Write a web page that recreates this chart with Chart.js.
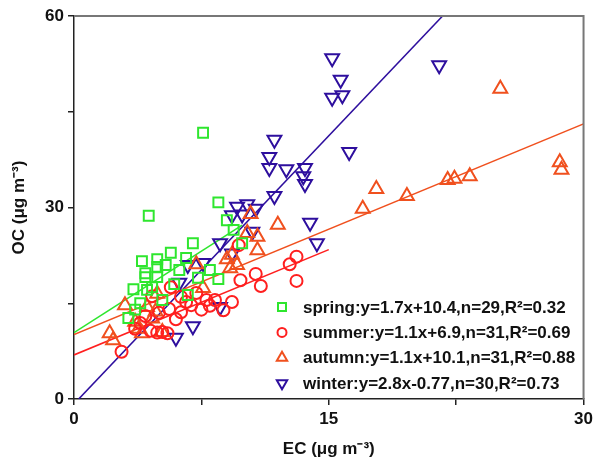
<!DOCTYPE html>
<html>
<head>
<meta charset="utf-8">
<script src="https://cdn.jsdelivr.net/npm/chart.js@4.4.1/dist/chart.umd.min.js"></script>
<style>
body{margin:0;background:#fff}
#wrap{width:597px;height:460px}
</style>
</head>
<body>
<div id="wrap"><canvas id="ocecCanvas" width="597" height="460"></canvas></div>
<script>
// seasons + fit stats
var seasons = ['spring', 'summer', 'autumn', 'winter'];
var slopes = [1.7, 1.1, 1.1, 2.8];
var intercepts = [10.4, 6.9, 10.1, -0.77];
var fitFrom = [0, 0, 0, 0.275];
var fitTo = [9.9, 15, 30, 21.7];
var nCount = [29, 31, 31, 30];
var r2 = ['0.32', '0.69', '0.88', '0.73'];

var xTicks = [0, 15, 30];
var yTicks = [0, 30, 60];

// EC / OC values
var springEC = [7.6, 4.4, 8.5, 9.0, 7.0, 5.7, 4.0, 4.9, 6.6, 4.2, 4.9, 5.4, 6.2, 4.9, 4.2, 8.0, 8.5, 9.9, 3.5, 4.3, 6.7, 3.9, 3.2, 4.6, 5.2, 3.6, 7.3, 5.9, 9.4];
var springOC = [41.7, 28.7, 30.8, 28.0, 24.4, 22.9, 21.6, 21.9, 22.1, 19.7, 20.7, 21.0, 20.2, 19.1, 19.1, 20.2, 18.8, 24.4, 17.2, 17.1, 16.3, 15.0, 12.7, 17.5, 15.5, 14.0, 19.0, 18.0, 26.5];

var summerEC = [9.7, 13.1, 12.7, 13.1, 10.7, 9.8, 11.0, 5.7, 4.6, 6.3, 7.8, 8.3, 6.9, 8.0, 6.3, 5.6, 8.8, 3.9, 4.5, 4.9, 5.2, 5.5, 2.8, 6.6, 7.2, 6.0, 4.2, 5.0, 7.5, 9.3, 3.6];
var summerOC = [24.1, 22.3, 21.1, 18.5, 19.6, 18.6, 17.7, 17.5, 16.1, 16.0, 15.5, 15.5, 14.7, 14.6, 13.6, 14.1, 13.9, 11.9, 10.7, 10.4, 10.5, 10.3, 7.4, 15.2, 16.6, 12.5, 13.0, 13.5, 14.0, 15.2, 11.0];

var autumnEC = [25.1, 28.6, 28.7, 23.3, 22.4, 22.0, 17.8, 19.6, 17.0, 12.0, 10.8, 10.8, 9.0, 9.6, 10.4, 7.6, 4.9, 4.3, 4.8, 3.0, 3.6, 2.1, 2.3, 4.0, 7.2, 9.3, 5.2, 9.2, 4.6, 3.8, 10.2];
var autumnOC = [48.6, 37.1, 35.9, 34.9, 34.5, 34.3, 32.9, 31.8, 29.8, 27.3, 25.4, 23.3, 21.9, 21.0, 29.0, 17.4, 16.5, 14.4, 13.7, 14.7, 12.1, 10.3, 9.2, 10.3, 21.1, 22.6, 10.5, 20.5, 12.6, 11.0, 26.0];

var winterEC = [15.2, 15.7, 15.2, 15.8, 11.8, 11.5, 11.5, 12.5, 16.2, 13.6, 13.5, 13.6, 11.8, 9.6, 10.7, 9.3, 9.9, 21.5, 10.5, 13.9, 14.3, 8.6, 9.3, 6.7, 7.6, 6.2, 8.6, 7.0, 6.0, 10.2];
var winterOC = [53.4, 50.0, 47.2, 47.6, 40.6, 37.9, 36.2, 36.0, 38.7, 36.2, 34.9, 33.7, 31.8, 30.1, 29.8, 28.8, 28.9, 52.3, 26.2, 27.6, 24.4, 24.4, 22.8, 21.0, 21.3, 18.2, 14.4, 11.4, 9.6, 30.5];

var seasonColors = ['#2ee62e', '#ff1f1f', '#f0501e', '#2e0f9e'];
var markerStyles = ['rect', 'circle', 'triangle', 'triangle'];
var markerRotation = [0, 0, 0, 180];
var markerRadius = [7, 6, 8, 8];

var ecLists = [springEC, summerEC, autumnEC, winterEC];
var ocLists = [springOC, summerOC, autumnOC, winterOC];

function toPoints(xs, ys) {
    var pts = [];
    for (var i = 0; i < xs.length; i++) pts.push({ x: xs[i], y: ys[i] });
    return pts;
}

var datasets = [];
for (var s = 0; s < seasons.length; s++) {
    datasets.push({
        type: 'scatter',
        label: seasons[s] + ':y=' + slopes[s] + 'x' + (intercepts[s] < 0 ? '' : '+') + intercepts[s] +
               ',n=' + nCount[s] + ',R\u00B2=' + r2[s],
        data: toPoints(ecLists[s], ocLists[s]),
        pointStyle: markerStyles[s],
        rotation: markerRotation[s],
        radius: markerRadius[s],
        backgroundColor: 'rgba(0,0,0,0)',
        borderColor: seasonColors[s],
        borderWidth: 2
    });
}
// fit lines
for (var s = 0; s < seasons.length; s++) {
    var x0 = fitFrom[s], x1 = fitTo[s];
    datasets.push({
        type: 'line',
        label: seasons[s] + ' fit',
        data: [{ x: x0, y: slopes[s] * x0 + intercepts[s] }, { x: x1, y: slopes[s] * x1 + intercepts[s] }],
        borderColor: seasonColors[s],
        borderWidth: 1.6,
        pointRadius: 0,
        fill: false
    });
}

var frameAndLegend = {
    id: 'frameAndLegend',
    afterDatasetsDraw: function (chart) {
        var ctx = chart.ctx, a = chart.chartArea;
        ctx.save();
        ctx.strokeStyle = '#777';
        ctx.lineWidth = 2;
        ctx.beginPath();
        ctx.moveTo(a.left, a.top);
        ctx.lineTo(a.right, a.top);
        ctx.lineTo(a.right, a.bottom);
        ctx.stroke();

        // legend inside the plot
        var mx = 282, tx = 303, y0 = 307, dy = 25.4;
        ctx.font = 'bold 17px "Liberation Sans", Arial, sans-serif';
        ctx.textBaseline = 'middle';
        ctx.textAlign = 'left';
        for (var i = 0; i < seasons.length; i++) {
            var ds = chart.data.datasets[i];
            var y = y0 + i * dy;
            ctx.strokeStyle = ds.borderColor;
            ctx.lineWidth = 2;
            ctx.beginPath();
            if (ds.pointStyle === 'rect') {
                ctx.rect(mx - 4, y - 4, 8, 8);
            } else if (ds.pointStyle === 'circle') {
                ctx.arc(mx, y, 4.5, 0, Math.PI * 2);
            } else {
                var r = 6, sgn = ds.rotation ? -1 : 1;
                ctx.moveTo(mx, y - sgn * r);
                ctx.lineTo(mx + r * 0.866, y + sgn * r * 0.5);
                ctx.lineTo(mx - r * 0.866, y + sgn * r * 0.5);
                ctx.closePath();
            }
            ctx.stroke();
            ctx.fillStyle = '#111';
            ctx.fillText(ds.label, tx, y + 1);
        }
        ctx.restore();
    }
};

var tickFont = { family: '"Liberation Sans", Arial, sans-serif', size: 17, weight: 'bold' };
var titleFont = { family: '"Liberation Sans", Arial, sans-serif', size: 17, weight: 'bold' };

var ocecChart = new Chart(document.getElementById('ocecCanvas'), {
    type: 'scatter',
    data: { datasets: datasets },
    plugins: [frameAndLegend],
    options: {
        responsive: false,
        animation: false,
        layout: { padding: { left: 0, right: 11, top: 16, bottom: 0 } },
        plugins: {
            legend: { display: false },
            tooltip: { enabled: false }
        },
        scales: {
            x: {
                type: 'linear',
                min: xTicks[0],
                max: xTicks[xTicks.length - 1],
                afterFit: function (scale) { scale.height = 61; },
                ticks: {
                    stepSize: 7.5,
                    color: '#111',
                    font: tickFont,
                    padding: 4,
                    maxRotation: 0,
                    callback: function (v) { return xTicks.indexOf(v) >= 0 ? v : ''; }
                },
                grid: { drawOnChartArea: false, drawTicks: true, tickLength: 6, color: '#222', lineWidth: 1.5 },
                border: { display: true, color: '#222', width: 1.5 },
                title: { display: true, text: 'EC (\u03BCg m\u207B\u00B3)', color: '#111', font: titleFont, padding: { top: 2, bottom: 0 } }
            },
            y: {
                type: 'linear',
                min: yTicks[0],
                max: yTicks[yTicks.length - 1],
                afterFit: function (scale) { scale.width = 74; },
                ticks: {
                    stepSize: 15,
                    color: '#111',
                    font: tickFont,
                    padding: 4,
                    callback: function (v) { return yTicks.indexOf(v) >= 0 ? v : ''; }
                },
                grid: { drawOnChartArea: false, drawTicks: true, tickLength: 6, color: '#222', lineWidth: 1.5 },
                border: { display: true, color: '#222', width: 1.5 },
                title: { display: true, text: 'OC (\u03BCg m\u207B\u00B3)', color: '#111', font: titleFont, padding: { top: 9, bottom: 0 } }
            }
        }
    }
});
</script>
</body>
</html>
